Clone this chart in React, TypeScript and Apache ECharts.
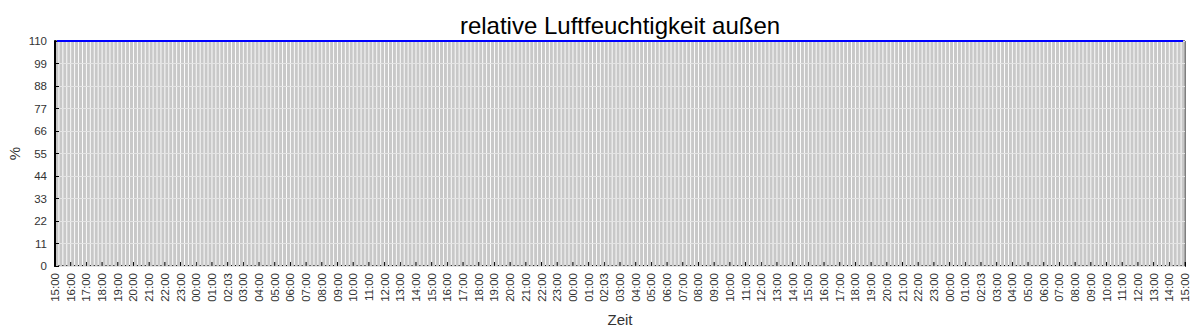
import React, { useEffect, useRef } from "react";
import * as echarts from "echarts";

// Hourly tick labels over the 72-hour window
const tickLabels = [
  "15:00", "16:00", "17:00", "18:00", "19:00", "20:00", "21:00", "22:00", "23:00",
  "00:00", "01:00", "02:03", "03:00", "04:00", "05:00", "06:00", "07:00", "08:00",
  "09:00", "10:00", "11:00", "12:00", "13:00", "14:00",
  "15:00", "16:00", "17:00", "18:00", "19:00", "20:00", "21:00", "22:00", "23:00",
  "00:00", "01:00", "02:03", "03:00", "04:00", "05:00", "06:00", "07:00", "08:00",
  "09:00", "10:00", "11:00", "12:00", "13:00", "14:00",
  "15:00", "16:00", "17:00", "18:00", "19:00", "20:00", "21:00", "22:00", "23:00",
  "00:00", "01:00", "02:03", "03:00", "04:00", "05:00", "06:00", "07:00", "08:00",
  "09:00", "10:00", "11:00", "12:00", "13:00", "14:00", "15:00",
];

// Y axis ticks (%)
const yTicks = [0, 11, 22, 33, 44, 55, 66, 77, 88, 99, 110];

// Quarter-hour humidity readings (%), 4 per hour, 72 hours
const humidityBars = [
  110, 110, 110, 110, 110, 110, 110, 110, 110, 110, 110, 110, 110, 110, 110, 110,
  110, 110, 110, 110, 110, 110, 110, 110, 110, 110, 110, 110, 110, 110, 110, 110,
  110, 110, 110, 110, 110, 110, 110, 110, 110, 110, 110, 110, 110, 110, 110, 110,
  110, 110, 110, 110, 110, 110, 110, 110, 110, 110, 110, 110, 110, 110, 110, 110,
  110, 110, 110, 110, 110, 110, 110, 110, 110, 110, 110, 110, 110, 110, 110, 110,
  110, 110, 110, 110, 110, 110, 110, 110, 110, 110, 110, 110, 110, 110, 110, 110,
  110, 110, 110, 110, 110, 110, 110, 110, 110, 110, 110, 110, 110, 110, 110, 110,
  110, 110, 110, 110, 110, 110, 110, 110, 110, 110, 110, 110, 110, 110, 110, 110,
  110, 110, 110, 110, 110, 110, 110, 110, 110, 110, 110, 110, 110, 110, 110, 110,
  110, 110, 110, 110, 110, 110, 110, 110, 110, 110, 110, 110, 110, 110, 110, 110,
  110, 110, 110, 110, 110, 110, 110, 110, 110, 110, 110, 110, 110, 110, 110, 110,
  110, 110, 110, 110, 110, 110, 110, 110, 110, 110, 110, 110, 110, 110, 110, 110,
  110, 110, 110, 110, 110, 110, 110, 110, 110, 110, 110, 110, 110, 110, 110, 110,
  110, 110, 110, 110, 110, 110, 110, 110, 110, 110, 110, 110, 110, 110, 110, 110,
  110, 110, 110, 110, 110, 110, 110, 110, 110, 110, 110, 110, 110, 110, 110, 110,
  110, 110, 110, 110, 110, 110, 110, 110, 110, 110, 110, 110, 110, 110, 110, 110,
  110, 110, 110, 110, 110, 110, 110, 110, 110, 110, 110, 110, 110, 110, 110, 110,
  110, 110, 110, 110, 110, 110, 110, 110, 110, 110, 110, 110, 110, 110, 110, 110,
];

// Trend line readings (%), same quarter-hour slots
const humidityLine = humidityBars.slice();

const SLOTS_PER_HOUR = 4;

export default function App() {
  const ref = useRef<HTMLDivElement>(null);

  useEffect(() => {
    if (!ref.current) return;
    const chart = echarts.init(ref.current, undefined, { renderer: "svg" });
    const font = "'Liberation Sans', Arial, sans-serif";
    const slotX = (i: number) => (i + 0.5) / SLOTS_PER_HOUR;

    chart.setOption({
      animation: false,
      backgroundColor: "#ffffff",
      textStyle: { fontFamily: font },
      title: {
        text: "relative Luftfeuchtigkeit außen",
        left: 615,
        textAlign: "center",
        top: 8,
        textStyle: { fontFamily: font, fontSize: 24, fontWeight: "normal", color: "#000" },
      },
      grid: {
        left: 55,
        right: 15,
        top: 41,
        bottom: 67,
        containLabel: false,
        outerBoundsMode: "none",
        show: true,
        borderColor: "#000",
        borderWidth: 1,
        backgroundColor: "transparent",
      },
      xAxis: {
        type: "value",
        min: 0,
        max: tickLabels.length - 1,
        interval: 1,
        name: "Zeit",
        nameLocation: "middle",
        nameGap: 46,
        nameMoveOverlap: false,
        nameTextStyle: { fontFamily: font, fontSize: 15, color: "#333" },
        axisLine: { show: true, lineStyle: { color: "#000", width: 2 } },
        axisTick: { show: true, inside: true, length: 4, lineStyle: { color: "#000", width: 2 } },
        axisLabel: {
          rotate: 90,
          fontSize: 11.5,
          color: "#333",
          margin: 7,
          showMinLabel: true,
          showMaxLabel: true,
          formatter: (v: number) => tickLabels[Math.round(v)] ?? "",
        },
        splitLine: { show: false },
      },
      yAxis: {
        type: "value",
        min: 0,
        max: 110,
        interval: 11,
        z: 5,
        name: "%",
        nameLocation: "middle",
        nameGap: 33,
        nameMoveOverlap: false,
        nameTextStyle: { fontFamily: font, fontSize: 15, color: "#333" },
        axisLine: { show: true, lineStyle: { color: "#000", width: 2 } },
        axisTick: { show: true, inside: true, length: 4, lineStyle: { color: "#000", width: 1 } },
        axisLabel: {
          fontSize: 11.5,
          color: "#333",
          margin: 8,
          formatter: (v: number) => (yTicks.includes(v) ? String(v) : ""),
        },
        splitLine: { show: true, lineStyle: { color: "#e4e4e4", width: 1 } },
      },
      series: [
        {
          type: "bar",
          data: humidityBars.map((v, i) => [slotX(i), v]),
          barWidth: 3,
          itemStyle: { color: "#c8c8c8" },
          z: 2,
        },
        {
          type: "line",
          data: humidityLine.map((v, i) => [slotX(i), v]),
          showSymbol: false,
          lineStyle: { color: "#0000ff", width: 2 },
          z: 6,
        },
      ],
    });

    return () => chart.dispose();
  }, []);

  return (
    <div
      ref={ref}
      style={{ position: "absolute", left: 0, top: 0, width: 1200, height: 333 }}
    />
  );
}
